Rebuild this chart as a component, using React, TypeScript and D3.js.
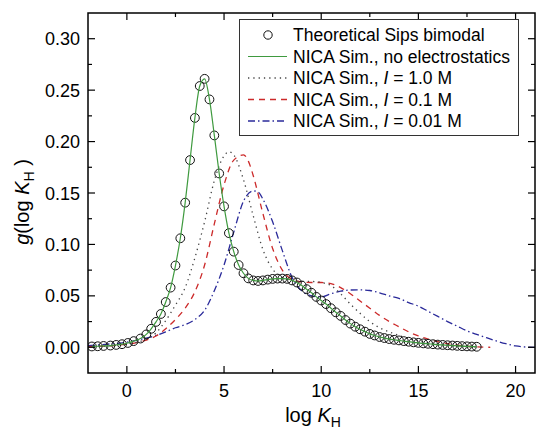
import React from "react";
import * as d3 from "d3";

// Theoretical Sips bimodal (circles + green line)
const sipsX = [-1.8, -1.5, -1.2, -0.85, -0.55, -0.25, 0.05, 0.35, 0.7, 1.0, 1.25, 1.5, 1.75, 2.0, 2.25, 2.5, 2.75, 3.0, 3.25, 3.5, 3.75, 4.0, 4.25, 4.5, 4.75, 5.0, 5.25, 5.5, 5.75, 6.0, 6.25, 6.5, 6.75, 7.0, 7.25, 7.5, 7.75, 8.0, 8.25, 8.5, 8.75, 9.0, 9.25, 9.5, 9.75, 10.0, 10.25, 10.5, 10.75, 11.0, 11.25, 11.5, 11.75, 12.0, 12.25, 12.5, 12.75, 13.0, 13.25, 13.5, 13.75, 14.0, 14.25, 14.5, 14.75, 15.0, 15.25, 15.5, 15.75, 16.0, 16.25, 16.5, 16.75, 17.0, 17.25, 17.5, 17.75, 18.0];
const sipsG = [0.0008, 0.001, 0.0013, 0.0017, 0.0023, 0.003, 0.0042, 0.006, 0.0085, 0.0125, 0.018, 0.0247, 0.0324, 0.044, 0.058, 0.0795, 0.106, 0.1406, 0.182, 0.223, 0.254, 0.261, 0.241, 0.206, 0.169, 0.137, 0.111, 0.093, 0.08, 0.072, 0.067, 0.065, 0.0645, 0.065, 0.0658, 0.0665, 0.0668, 0.0668, 0.0665, 0.065, 0.063, 0.06, 0.0565, 0.053, 0.049, 0.0455, 0.042, 0.038, 0.034, 0.0305, 0.0265, 0.023, 0.02, 0.0175, 0.0152, 0.013, 0.0115, 0.01, 0.009, 0.008, 0.0073, 0.0067, 0.006, 0.0054, 0.0048, 0.0043, 0.0038, 0.0034, 0.003, 0.0026, 0.0023, 0.002, 0.0017, 0.0014, 0.0011, 0.0009, 0.0007, 0.0005];

// NICA Sim., I = 1.0 M
const dotX = [-2, -1.5, -1, -0.5, 0, 0.5, 1, 1.5, 2, 2.5, 3, 3.5, 4, 4.5, 5, 5.25, 5.5, 6, 6.5, 7, 7.5, 8, 8.5, 9, 9.5, 10, 10.5, 11, 11.5, 12, 12.5, 13, 13.5, 14, 14.5, 15, 15.5, 16, 16.5, 17, 17.5, 18];
const dotG = [0.0006, 0.0009, 0.0013, 0.002, 0.003, 0.0048, 0.008, 0.014, 0.026, 0.041, 0.058, 0.087, 0.122, 0.162, 0.186, 0.19, 0.187, 0.163, 0.128, 0.095, 0.076, 0.068, 0.065, 0.064, 0.064, 0.063, 0.06, 0.052, 0.042, 0.033, 0.025, 0.019, 0.015, 0.0115, 0.0085, 0.0062, 0.0045, 0.0032, 0.0021, 0.0013, 0.0007, 0.0003];

// NICA Sim., I = 0.1 M
const redX = [-2, -1.5, -1, -0.5, 0, 0.5, 1, 1.5, 2, 2.5, 3, 3.5, 4, 4.5, 5, 5.5, 6, 6.25, 6.5, 7, 7.5, 8, 8.5, 9, 9.5, 10, 10.5, 11, 11.5, 12, 12.5, 13, 13.5, 14, 14.5, 15, 15.5, 16, 16.5, 17, 17.5, 18, 18.7];
const redG = [0.0006, 0.0009, 0.0013, 0.002, 0.003, 0.0045, 0.007, 0.011, 0.018, 0.027, 0.038, 0.054, 0.08, 0.12, 0.158, 0.182, 0.187, 0.181, 0.167, 0.13, 0.096, 0.075, 0.066, 0.0635, 0.063, 0.063, 0.062, 0.058, 0.052, 0.045, 0.038, 0.031, 0.025, 0.02, 0.015, 0.011, 0.008, 0.0055, 0.0035, 0.002, 0.001, 0.0004, 0.0];

// NICA Sim., I = 0.01 M
const blueX = [-2, -1, 0, 0.5, 1, 1.5, 2, 2.5, 3, 3.5, 4, 4.5, 5, 5.5, 6, 6.5, 6.75, 7, 7.5, 8, 8.5, 9, 9.5, 10, 10.5, 11, 11.5, 12, 12.5, 13, 13.5, 14, 14.5, 15, 15.5, 16, 16.5, 17, 17.5, 18, 18.5, 19, 19.5, 20, 20.5, 21];
const blueG = [0.0015, 0.003, 0.005, 0.0068, 0.009, 0.0115, 0.015, 0.019, 0.022, 0.027, 0.036, 0.055, 0.08, 0.112, 0.142, 0.152, 0.151, 0.144, 0.122, 0.094, 0.068, 0.055, 0.05, 0.049, 0.052, 0.0545, 0.0557, 0.0558, 0.0552, 0.053, 0.05, 0.0475, 0.0435, 0.04, 0.035, 0.03, 0.025, 0.0205, 0.016, 0.0125, 0.0093, 0.0062, 0.0035, 0.0013, 0.0003, 0.0];

const xTicks = [0, 5, 10, 15, 20];
const xMinor = [2.5, 7.5, 12.5, 17.5];
const yTicks = [0, 0.05, 0.1, 0.15, 0.2, 0.25, 0.3];
const yMinor = [0.025, 0.075, 0.125, 0.175, 0.225, 0.275];

const W = 536;
const H = 430;
const left = 88, right = 535, top = 13, bottom = 373;
const FONT = "'Liberation Sans', Arial, sans-serif";

export default function App() {
  const x = d3.scaleLinear().domain([-2, 21]).range([left, right]);
  const y = d3.scaleLinear().domain([-0.025, 0.325]).range([bottom, top]);

  const mk = (xs: number[], gs: number[]) =>
    d3
      .line<number>()
      .x((_, i) => x(xs[i]))
      .y((g) => y(g))
      .curve(d3.curveMonotoneX)(gs) || "";

  const sipsPath = mk(sipsX, sipsG);
  const dotPath = mk(dotX, dotG);
  const redPath = mk(redX, redG);
  const bluePath = mk(blueX, blueG);

  const green = "#3f9a3f";
  const red = "#cc2a2a";
  const blue = "#2a2a9a";
  const gray = "#444";

  const legendRows = [
    { key: "sips", label: <>Theoretical Sips bimodal</> },
    { key: "none", label: <>NICA Sim., no electrostatics</> },
    { key: "dot", label: <>NICA Sim., <tspan fontStyle="italic">I</tspan> = 1.0 M</> },
    { key: "red", label: <>NICA Sim., <tspan fontStyle="italic">I</tspan> = 0.1 M</> },
    { key: "blue", label: <>NICA Sim., <tspan fontStyle="italic">I</tspan> = 0.01 M</> },
  ];

  return (
    <svg
      width={W}
      height={H}
      style={{ position: "absolute", left: 0, top: 0, background: "#fff" }}
      fontFamily={FONT}
    >
      <defs>
        <clipPath id="plot">
          <rect x={left} y={top} width={right - left} height={bottom - top} />
        </clipPath>
      </defs>

      <g clipPath="url(#plot)" fill="none">
        <path d={bluePath} stroke={blue} strokeWidth={1.3} strokeDasharray="7 3 1.5 3" />
        <path d={redPath} stroke={red} strokeWidth={1.3} strokeDasharray="6 5" />
        <path d={dotPath} stroke={gray} strokeWidth={1.3} strokeDasharray="1.3 4" />
        {sipsX.map((v, i) => (
          <circle key={i} cx={x(v)} cy={y(sipsG[i])} r={4.4} stroke="#111" strokeWidth={1} fill="none" />
        ))}
        <path d={sipsPath} stroke={green} strokeWidth={1.2} />
      </g>

      {/* frame */}
      <rect x={left} y={top} width={right - left} height={bottom - top} fill="none" stroke="#000" strokeWidth={1.5} />

      {/* x ticks */}
      {xTicks.map((t) => (
        <g key={"xt" + t}>
          <line x1={x(t)} x2={x(t)} y1={bottom} y2={bottom - 7} stroke="#000" strokeWidth={1.2} />
          <line x1={x(t)} x2={x(t)} y1={top} y2={top + 7} stroke="#000" strokeWidth={1.2} />
          <text x={x(t)} y={397} fontSize={18} textAnchor="middle">{t}</text>
        </g>
      ))}
      {xMinor.map((t) => (
        <g key={"xm" + t}>
          <line x1={x(t)} x2={x(t)} y1={bottom} y2={bottom - 4} stroke="#000" strokeWidth={1.2} />
          <line x1={x(t)} x2={x(t)} y1={top} y2={top + 4} stroke="#000" strokeWidth={1.2} />
        </g>
      ))}

      {/* y ticks */}
      {yTicks.map((t) => (
        <g key={"yt" + t}>
          <line x1={left} x2={left + 7} y1={y(t)} y2={y(t)} stroke="#000" strokeWidth={1.2} />
          <line x1={right} x2={right - 7} y1={y(t)} y2={y(t)} stroke="#000" strokeWidth={1.2} />
          <text x={80} y={y(t) + 6.5} fontSize={18} textAnchor="end">{t.toFixed(2)}</text>
        </g>
      ))}
      {yMinor.map((t) => (
        <g key={"ym" + t}>
          <line x1={left} x2={left + 4} y1={y(t)} y2={y(t)} stroke="#000" strokeWidth={1.2} />
          <line x1={right} x2={right - 4} y1={y(t)} y2={y(t)} stroke="#000" strokeWidth={1.2} />
        </g>
      ))}

      {/* axis titles */}
      <text x={313} y={422} fontSize={20} textAnchor="middle">
        log <tspan fontStyle="italic">K</tspan>
        <tspan fontSize={14} dy={5}>H</tspan>
      </text>
      <text transform="translate(29,202) rotate(-90)" fontSize={20} textAnchor="middle">
        <tspan fontStyle="italic">g</tspan>(log <tspan fontStyle="italic">K</tspan>
        <tspan fontSize={14} dy={5}>H</tspan>
        <tspan dy={-5}> )</tspan>
      </text>

      {/* legend */}
      <rect x={239.5} y={19.5} width={279} height={116} fill="#fff" stroke="#333" strokeWidth={1} />
      {legendRows.map((r, i) => {
        const cy = 35 + i * 21.5;
        return (
          <g key={r.key}>
            {r.key === "sips" && <circle cx={268} cy={cy} r={4.2} fill="none" stroke="#111" strokeWidth={1} />}
            {r.key === "none" && <line x1={248} x2={287} y1={cy} y2={cy} stroke={green} strokeWidth={1.2} />}
            {r.key === "dot" && <line x1={248} x2={287} y1={cy} y2={cy} stroke={gray} strokeWidth={1.3} strokeDasharray="1.3 4" />}
            {r.key === "red" && <line x1={248} x2={287} y1={cy} y2={cy} stroke={red} strokeWidth={1.3} strokeDasharray="6 5" />}
            {r.key === "blue" && <line x1={248} x2={287} y1={cy} y2={cy} stroke={blue} strokeWidth={1.3} strokeDasharray="7 3 1.5 3" />}
            <text x={293} y={cy + 6} fontSize={17.5}>{r.label}</text>
          </g>
        );
      })}
    </svg>
  );
}
